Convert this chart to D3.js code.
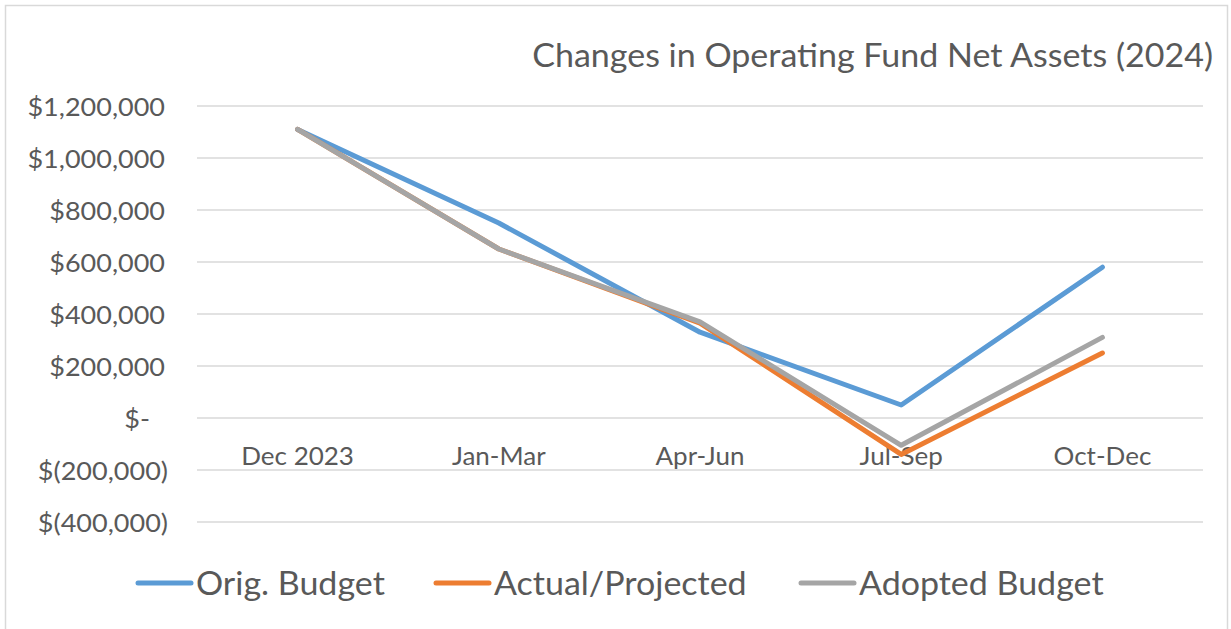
<!DOCTYPE html>
<html>
<head>
<meta charset="utf-8">
<script src="https://cdn.jsdelivr.net/npm/d3@7"></script>
<style>
  html, body { margin: 0; padding: 0; background: #fff; }
  svg { display: block; }
  text { font-family: Lato, "Open Sans", sans-serif; fill: #595959; }
</style>
</head>
<body>
<svg id="chart" width="1231" height="629"></svg>
<script>
const categories = ["Dec 2023", "Jan-Mar", "Apr-Jun", "Jul-Sep", "Oct-Dec"];
const seriesNames = ["Orig. Budget", "Actual/Projected", "Adopted Budget"];
const origBudget = [1110000, 750000, 330000, 50000, 580000];
const actualProjected = [1110000, 650000, 365000, -140000, 250000];
const adoptedBudget = [1110000, 650000, 370000, -105000, 310000];
const yTicks = [-400000, -200000, 0, 200000, 400000, 600000, 800000, 1000000, 1200000];
const colors = ["#5B9BD5", "#ED7D31", "#A5A5A5"];
const title = "Changes in Operating Fund Net Assets (2024)";

const series = [origBudget, actualProjected, adoptedBudget];

const svg = d3.select("#chart");
const W = 1231, H = 629;

function stretch(sel, f) {
  sel.each(function () {
    const w = this.getComputedTextLength();
    d3.select(this).attr("textLength", w * f).attr("lengthAdjust", "spacingAndGlyphs");
  });
}

// outer border
svg.append("rect").attr("x", 5.5).attr("y", 5.5).attr("width", W - 9).attr("height", H)
  .attr("fill", "#fff").attr("stroke", "#d9d9d9").attr("stroke-width", 1.5);

const plot = { left: 197, right: 1203, top: 106, bottom: 522 };

const x = d3.scaleBand().domain(categories).range([plot.left, plot.right]);
const y = d3.scaleLinear().domain([-400000, 1200000]).range([plot.bottom, plot.top]);

// gridlines
svg.append("g").selectAll("line").data(yTicks).join("line")
  .attr("x1", plot.left).attr("x2", plot.right)
  .attr("y1", d => y(d)).attr("y2", d => y(d))
  .attr("stroke", "#d9d9d9").attr("stroke-width", 1.5);

// y-axis labels (accounting format)
const fmt = d3.format(",");
function acct(d) {
  if (d === 0) return "$-";
  if (d < 0) return "$(" + fmt(-d) + ")";
  return "$" + fmt(d);
}
const yAxis = d3.axisLeft(y).tickValues(yTicks).tickFormat(acct).tickSize(0).tickPadding(0);
const gy = svg.append("g").attr("transform", "translate(168,0)").call(yAxis);
gy.select(".domain").remove();
gy.selectAll("text")
  .style("font-family", "Lato, sans-serif")
  .attr("font-size", 25)
  .attr("fill", "#595959")
  .attr("dy", "0.36em")
  .attr("x", d => d < 0 ? 0 : (d === 0 ? -18 : -3));
stretch(gy.selectAll("text"), 1.08);

// x-axis labels at zero line
const xAxis = d3.axisBottom(x).tickSize(0).tickPadding(0);
const gx = svg.append("g").attr("transform", `translate(0,${y(0)})`).call(xAxis);
gx.select(".domain").remove();
gx.selectAll("text")
  .style("font-family", "Lato, sans-serif")
  .attr("font-size", 25)
  .attr("fill", "#595959")
  .attr("y", 47).attr("dy", "0");
stretch(gx.selectAll("text"), 1.04);

// lines
const line = d3.line().x((d, i) => x(categories[i]) + x.bandwidth() / 2).y(d => y(d));
svg.append("g").selectAll("path").data(series).join("path")
  .attr("d", d => line(d))
  .attr("fill", "none")
  .attr("stroke", (d, i) => colors[i])
  .attr("stroke-width", 5)
  .attr("stroke-linecap", "round")
  .attr("stroke-linejoin", "round");

// title
const tt = svg.append("text").attr("x", 1213).attr("y", 67).attr("text-anchor", "end")
  .attr("font-size", 33.5).text(title);
stretch(tt, 1.015);

// legend
const legendItems = [
  { sx: 138, tx: 196 },
  { sx: 436, tx: 494 },
  { sx: 801, tx: 859 }
];
const lg = svg.append("g");
legendItems.forEach((it, i) => {
  lg.append("line").attr("x1", it.sx).attr("x2", it.sx + 53)
    .attr("y1", 583).attr("y2", 583)
    .attr("stroke", colors[i]).attr("stroke-width", 5).attr("stroke-linecap", "round");
  const t = lg.append("text").attr("x", it.tx).attr("y", 583).attr("dy", "0.36em")
    .attr("font-size", 33).text(seriesNames[i]);
  stretch(t, 1.03);
});
</script>
</body>
</html>
